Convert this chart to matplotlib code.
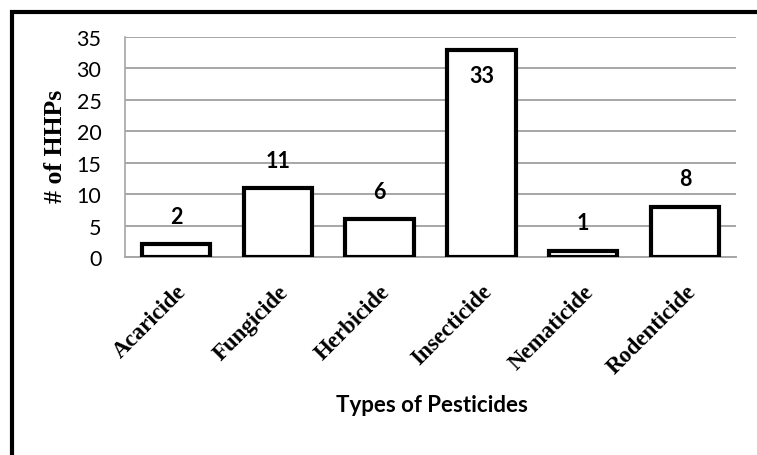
import matplotlib
matplotlib.use("Agg")
import matplotlib.pyplot as plt
from matplotlib.patches import Rectangle

categories = ["Acaricide", "Fungicide", "Herbicide", "Insecticide", "Nematicide", "Rodenticide"]
values = [2, 11, 6, 33, 1, 8]
yticks = [0, 5, 10, 15, 20, 25, 30, 35]

W, H = 757, 456
fig = plt.figure(figsize=(W / 100, H / 100), dpi=100)
ax = fig.add_axes([125 / W, 1 - 258 / H, (736 - 125) / W, (258 - 38) / H])

x = list(range(len(categories)))
ax.bar(x, values, width=0.67, color="white", edgecolor="black", linewidth=3, zorder=3)
ax.set_xlim(-0.5, len(categories) - 0.5)
ax.set_ylim(0, 35)
ax.set_yticks(yticks)
ax.set_yticklabels([str(t) for t in yticks], fontfamily="Lato", fontsize=15.5)
ax.yaxis.grid(True, color="#a6a6a6", linewidth=1.4, zorder=0)
ax.set_axisbelow(True)
ax.tick_params(axis="both", length=0)
ax.tick_params(axis="y", pad=17)
ax.tick_params(axis="x", pad=17)
for s in ["top", "right"]:
    ax.spines[s].set_visible(False)
ax.spines["left"].set_color("#a6a6a6")
ax.spines["bottom"].set_color("#a6a6a6")
ax.spines["left"].set_linewidth(1.2)
ax.spines["bottom"].set_linewidth(1.4)

ax.set_xticks(x)
ax.set_xticklabels(categories, rotation=45, ha="right", rotation_mode="anchor",
                   fontfamily="Liberation Serif", fontweight="bold", fontsize=16.5)

for xi, v in zip(x, values):
    off = -19 if v > 30 else 20
    ax.annotate(str(v), (xi, v), xytext=(0, off), textcoords="offset points",
                ha="center", va="center", fontfamily="Lato", fontweight="bold", fontsize=15.5)

fig.text(56 / W, 1 - 146 / H, "# of HHPs", rotation=90, ha="center", va="center",
         fontfamily="Liberation Serif", fontweight="bold", fontsize=18.5)
fig.text(432 / W, 1 - 405 / H, "Types of Pesticides", ha="center", va="center",
         fontfamily="Lato", fontweight="bold", fontsize=16)

fig.patches.append(Rectangle((12 / W, -0.1), 1.2, 1 - 13 / H + 0.1, transform=fig.transFigure,
                             fill=False, edgecolor="black", linewidth=3, zorder=10))

fig.savefig("out.png", dpi=100)
